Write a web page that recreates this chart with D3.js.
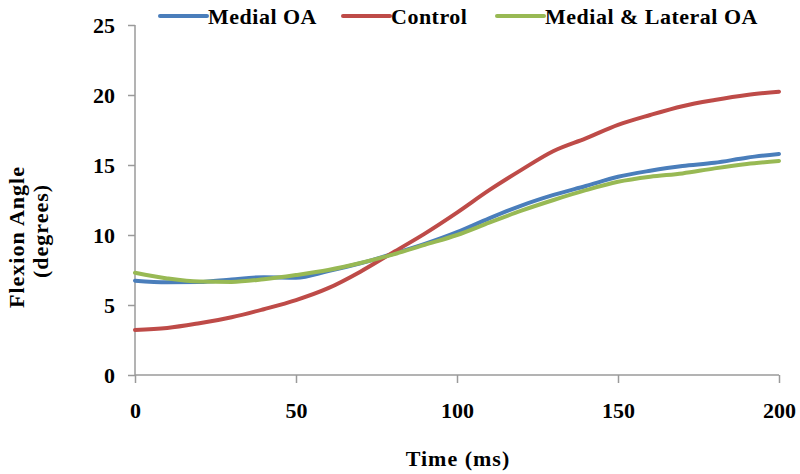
<!DOCTYPE html>
<html><head><meta charset="utf-8">
<script src="https://cdn.jsdelivr.net/npm/d3@7"></script>
<style>
body{margin:0;background:#fff;}
text{font-family:"Liberation Serif","Times New Roman",serif;font-weight:bold;fill:#000;}
</style></head>
<body><svg id="c" width="800" height="474"></svg>
<script>
const timeMs = [0,10,20,30,40,50,60,70,80,90,100,110,120,130,140,150,160,170,180,190,200];
const medialOA = [6.74,6.62,6.64,6.83,6.98,6.95,7.42,7.98,8.64,9.36,10.2,11.19,12.1,12.86,13.5,14.16,14.59,14.93,15.16,15.52,15.79];
const control = [3.22,3.36,3.7,4.12,4.7,5.35,6.2,7.38,8.74,10.1,11.6,13.2,14.65,16.0,16.9,17.86,18.57,19.2,19.64,20.0,20.24];
const medialLateralOA = [7.31,6.9,6.67,6.65,6.84,7.14,7.5,8.0,8.6,9.3,10.0,10.88,11.74,12.5,13.2,13.8,14.16,14.4,14.76,15.07,15.29];
const seriesNames = ["Medial OA","Control","Medial & Lateral OA"];
const seriesColors = ["#4a7ebb","#be4b48","#98b954"];
const xTicks = [0,50,100,150,200];
const yTicks = [0,5,10,15,20,25];

const svg = d3.select("#c");
const x = d3.scaleLinear().domain([0,200]).range([135,779]);
const y = d3.scaleLinear().domain([0,25]).range([375,25]);

const series = [medialOA, control, medialLateralOA];

// axes
const gx = svg.append("g").attr("transform","translate(0,375)")
  .call(d3.axisBottom(x).tickValues(xTicks).tickSize(8).tickPadding(19).tickFormat(d3.format("d")));
const gy = svg.append("g").attr("transform","translate(135,0)")
  .call(d3.axisLeft(y).tickValues(yTicks).tickSize(7).tickPadding(13).tickFormat(d3.format("d")));
[gx,gy].forEach(g=>{
  g.selectAll("path.domain").attr("stroke","#9a9a9a").attr("stroke-width",1.5);
  g.selectAll(".tick line").attr("stroke","#9a9a9a").attr("stroke-width",1.5);
  g.selectAll("text").style("font-family","'Liberation Serif',serif").style("font-weight","bold").attr("font-size",22).attr("fill","#000");
});
gy.select("path.domain").attr("d","M0,375V25");
gx.select("path.domain").attr("d","M135,0H779");

// lines
const line = d3.line().x((d,i)=>x(timeMs[i])).y(d=>y(d)).curve(d3.curveMonotoneX);
series.forEach((s,k)=>{
  svg.append("path").datum(s).attr("d",line).attr("fill","none")
    .attr("stroke",seriesColors[k]).attr("stroke-width",4).attr("stroke-linecap","round");
});

// legend
const legX = [160,343,497];
seriesNames.forEach((n,k)=>{
  const g = svg.append("g").attr("transform",`translate(${legX[k]},16)`);
  g.append("line").attr("x1",0).attr("x2",47).attr("y1",0).attr("y2",0)
    .attr("stroke",seriesColors[k]).attr("stroke-width",4).attr("stroke-linecap","round");
  g.append("text").attr("x",48).attr("y",8).attr("font-size",22).attr("letter-spacing",0.5).text(n);
});

// axis titles
svg.append("text").attr("x",458).attr("y",466).attr("text-anchor","middle").attr("font-size",22).attr("letter-spacing",1).text("Time (ms)");
svg.append("text").attr("transform","translate(24,237) rotate(-90)").attr("text-anchor","middle").attr("font-size",22).attr("letter-spacing",1).text("Flexion Angle");
svg.append("text").attr("transform","translate(48,231) rotate(-90)").attr("text-anchor","middle").attr("font-size",22).attr("letter-spacing",1).text("(degrees)");
</script></body></html>
